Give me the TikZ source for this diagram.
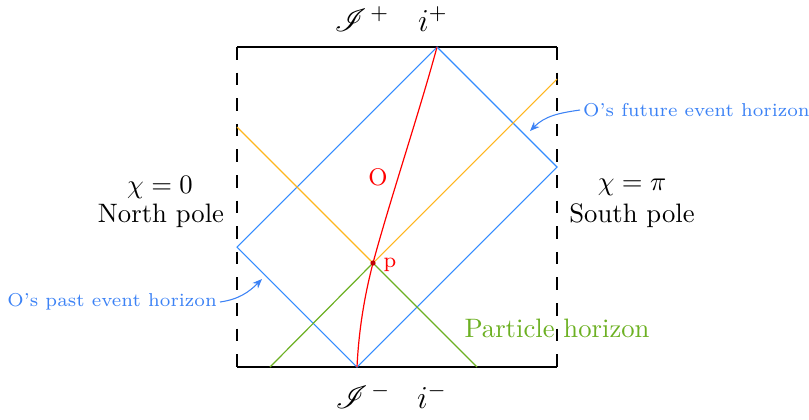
\documentclass[tikz,border=0pt]{standalone}
\usepackage{mathrsfs}
\usetikzlibrary{arrows.meta}
\definecolor{hblue}{RGB}{51,140,255}
\definecolor{tblue}{RGB}{60,130,245}
\definecolor{horange}{RGB}{255,182,30}
\definecolor{hgreen}{RGB}{108,176,34}
\tikzset{
  frame/.style={line width=0.5pt, black},
  dashedframe/.style={line width=0.5pt, black, dash pattern=on 4.7pt off 4.9pt},
  bline/.style={line width=0.4pt, hblue},
  oline/.style={line width=0.4pt, horange},
  gline/.style={line width=0.45pt, hgreen},
  rline/.style={line width=0.45pt, red},
  bnote/.style={text=tblue, font=\scriptsize, inner sep=1pt},
  barrow/.style={-{Stealth[length=3.6pt,width=2.9pt]}, tblue, line width=0.4pt},
  blabel/.style={font=\normalsize, align=center, inner sep=0pt}
}
\begin{document}
\begin{tikzpicture}[x=0.375pt,y=-0.375pt]
\useasboundingbox (0,0) rectangle (809,419);
% corners
\coordinate (TL) at (237,47);
\coordinate (TR) at (557,47);
\coordinate (BL) at (237,367);
\coordinate (BR) at (557,367);
% diamond
\coordinate (Dt) at (437,47);
\coordinate (Dr) at (557,167);
\coordinate (Db) at (357,367);
\coordinate (Dl) at (237,247);
% p and other ends
\coordinate (p) at (373,263);
\coordinate (Ol) at (237,127);
\coordinate (Or) at (557,79);
\coordinate (Gl) at (270,367);
\coordinate (Gr) at (477,367);

\draw[frame] (TL) -- (TR);
\draw[frame] (BL) -- (BR);
\draw[dashedframe] (TL) -- (BL);
\draw[dashedframe] (TR) -- (BR);

\draw[bline] (Dt) -- (Dr) -- (Db) -- (Dl) -- cycle;
\draw[oline] (Ol) -- (p) -- (Or);
\draw[gline] (Gl) -- (p) -- (Gr);
\draw[rline] (Db) .. controls (359,325) and (366,290) .. (p)
  .. controls (390,200) and (420,110) .. (Dt);
\fill[red!75!black] (p) circle[radius=2.6];

\node[text=red, font=\small] (Olab) at (378,177) {O};
\node[text=red, font=\footnotesize] (plab) at (390,265) {p};

\node[font=\large] (scrp) at (362,19) {$\mathscr{I}^{\,+}$};
\node[font=\large] (ip) at (433,19) {$i^{+}$};
\node[font=\large] (scrm) at (363,396) {$\mathscr{I}^{\,-}$};
\node[font=\large] (im) at (432,396) {$i^{-}$};

\node[blabel] (chi0) at (160,187) {$\chi=0$};
\node[blabel] (north) at (161,216) {North pole};
\node[blabel] (chipi) at (632,187) {$\chi=\pi$};
\node[blabel] (south) at (632,216) {South pole};

\node[text=hgreen, font=\normalsize] (part) at (557,328) {Particle horizon};

\node[bnote, anchor=west] (fut) at (580,110) {O's future event horizon};
\node[bnote, anchor=east] (past) at (220,302) {O's past event horizon};
\coordinate (futtip) at (530,131);
\coordinate (pasttip) at (262,279);
\draw[barrow] (fut.west) to[out=188,in=45] (futtip);
\draw[barrow] (past.east) to[out=8,in=225] (pasttip);
\end{tikzpicture}
\end{document}
